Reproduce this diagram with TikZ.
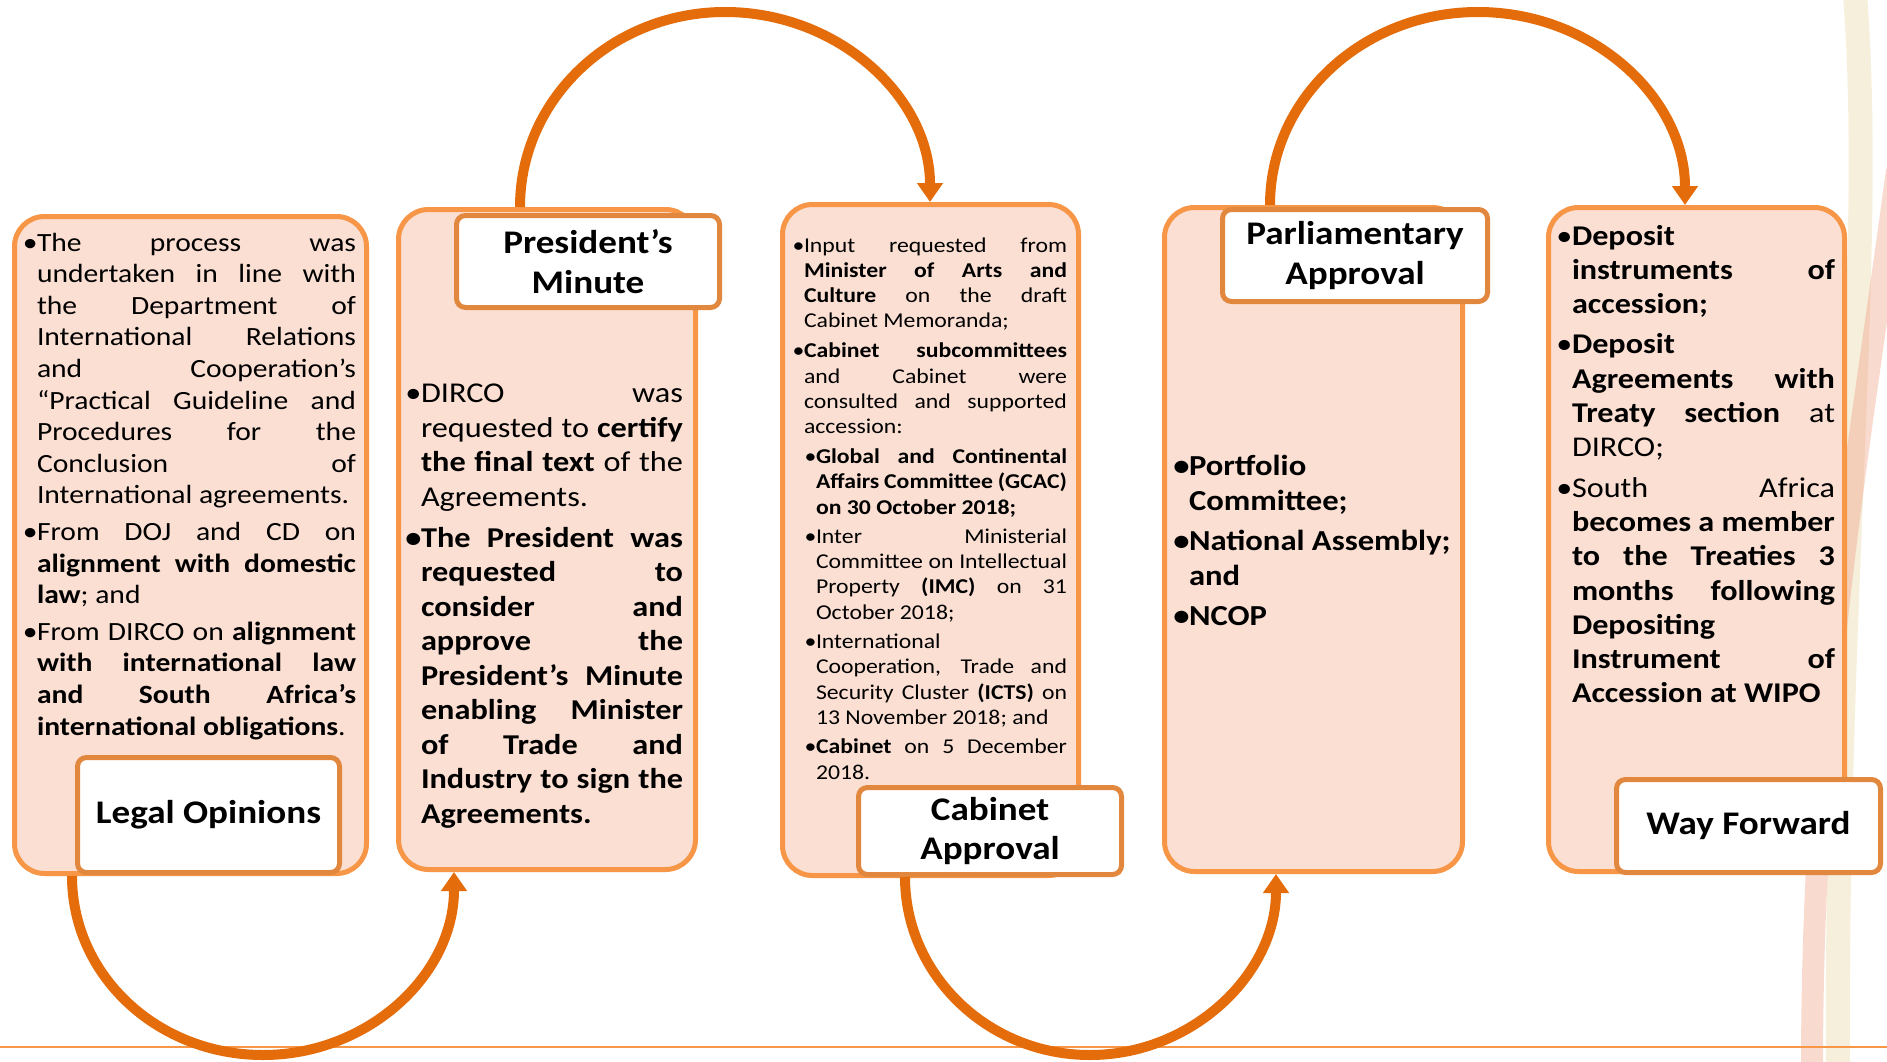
\documentclass[tikz,border=0pt]{standalone}
\usepackage{fontspec}
\setmainfont{Carlito}[FakeStretch=1.125]
\usetikzlibrary{arrows.meta}
\definecolor{arrowor}{RGB}{228,108,10}
\definecolor{panelbd}{RGB}{247,150,70}
\definecolor{panelfill}{RGB}{251,223,211}
\definecolor{titlebd}{RGB}{226,135,62}
\definecolor{stripesal}{RGB}{240,150,120}
\definecolor{stripeyel}{RGB}{225,205,140}
\newdimen\bulgap \bulgap=-0.5pt
\newdimen\subind \subind=12pt
\newcommand\JL[1]{\hbox to\hsize{\spaceskip=0.2em plus 1fil\relax#1}}
\newcommand\NL[1]{\hbox{#1}}
\newcommand\BJ[1]{\hbox to\hsize{\llap{•\kern\bulgap}\spaceskip=0.2em plus 1fil\relax#1}}
\newcommand\BN[1]{\hbox{\llap{•\kern\bulgap}#1}}
\newcommand\SJ[1]{\moveright\subind\hbox to\dimexpr\hsize-\subind\relax{\spaceskip=0.2em plus 1fil\relax#1}}
\newcommand\SBJ[1]{\moveright\subind\hbox to\dimexpr\hsize-\subind\relax{\llap{•\kern\bulgap}\spaceskip=0.2em plus 1fil\relax#1}}
\newcommand\SN[1]{\moveright\subind\hbox{#1}}
\newcommand\SBN[1]{\moveright\subind\hbox{\llap{•\kern\bulgap}#1}}
\begin{document}
\begin{tikzpicture}[x=1pt,y=-1pt,
  panel/.style={draw=panelbd, line width=5pt, fill=panelfill, rounded corners=30pt, inner sep=0pt, anchor=north west},
  tbox/.style={draw=titlebd, line width=5pt, fill=white, rounded corners=9pt, inner sep=0pt,
     font=\fontsize{33}{39.7}\selectfont\bfseries, align=center},
  body/.style={anchor=base west, inner sep=0pt, outer sep=0pt},
  flow/.style={draw=arrowor, line width=10pt, -{Triangle[width=25pt,length=19pt]}}
]
\useasboundingbox (0,0) rectangle (1887,1062);
\fill[white] (0,0) rectangle (1887,1062);
% background decoration
\draw[stripeyel, opacity=0.3, line width=24pt] (1855,-5) .. controls (1875,250) and (1835,600) .. (1838,1070);
\draw[stripesal, opacity=0.35, line width=22pt] (1897,170) .. controls (1860,450) and (1812,700) .. (1812,1070);
\draw[panelbd, line width=2.5pt] (0,1047) -- (1887,1047);

% panels
\node[panel, minimum width=352pt, minimum height=657pt] (p1) at (12,214) {};
\node[panel, minimum width=297pt, minimum height=660pt] (p2) at (396,207) {};
\node[panel, minimum width=296pt, minimum height=671pt] (p3) at (780,202) {};
\node[panel, minimum width=298pt, minimum height=664pt] (p4) at (1162,205) {};
\node[panel, minimum width=296pt, minimum height=664pt] (p5) at (1546,205) {};

% title boxes
\node[tbox, minimum width=262pt, minimum height=115pt] (t1) at (208.5,815) {Legal Opinions};
\node[tbox, minimum width=263pt, minimum height=92pt] (t2) at (588,261.5) {President’s\\Minute};
\node[tbox, minimum width=263pt, minimum height=87pt] (t3) at (990,831) {Cabinet\\Approval};
\node[tbox, minimum width=265pt, minimum height=92pt] (t4) at (1355,255.5) {Parliamentary\\Approval};
\node[tbox, minimum width=264pt, minimum height=93pt] (t5) at (1748.5,826) {Way Forward};

% connectors
\coordinate (m1) at (263,1055);
\coordinate (m2) at (725,12);
\coordinate (m3) at (1090,1055);
\coordinate (m4) at (1478,12);
\path[flow] ([xshift=60pt]p1.south west) .. controls +(0,100) and +(-105,0) .. (m1)
   .. controls +(105,0) and +(0,103) .. ([xshift=58pt]p2.south west);
\path[flow] ([xshift=124pt]p2.north west) .. controls +(0,-108) and +(-113,0) .. (m2)
   .. controls +(113,0) and +(0,-105) .. ([xshift=150pt]p3.north west);
\path[flow] ([xshift=49pt]t3.south west) .. controls +(0,98) and +(-102,0) .. (m3)
   .. controls +(102,0) and +(0,100) .. ([xshift=114pt]p4.south west);
\path[flow] ([xshift=108pt]p4.north west) .. controls +(0,-107) and +(-115,0) .. (m4)
   .. controls +(115,0) and +(0,-107) .. ([xshift=139pt]p5.north west);

% panel 1 text
\node[body] (b1) at (37,251) {\vtop{\hsize=319pt \fontsize{26.3}{31.6}\selectfont
\BJ{The process was}
\JL{undertaken in line with}
\JL{the Department of}
\JL{International Relations}
\JL{and Cooperation’s}
\JL{“Practical Guideline and}
\JL{Procedures for the}
\JL{Conclusion of}
\NL{International agreements.}
\vskip5pt
\BJ{From DOJ and CD on}
\JL{\bfseries alignment with domestic}
\NL{\textbf{law}; and}
\vskip5pt
\BJ{From DIRCO on \textbf{alignment}}
\JL{\bfseries with international law}
\JL{\bfseries and South Africa’s}
\NL{\textbf{international obligations}.}
}};

% panel 2 text
\node[body] (b2) at (421,402.5) {\vtop{\hsize=262pt \fontsize{28.7}{34.5}\selectfont
\BJ{DIRCO was}
\JL{requested to \textbf{certify}}
\JL{\textbf{the final text} of the}
\NL{Agreements.}
\vskip6.5pt
\bfseries
\BJ{The President was}
\JL{requested to}
\JL{consider and}
\JL{approve the}
\JL{President’s Minute}
\JL{enabling Minister}
\JL{of Trade and}
\JL{Industry to sign the}
\NL{Agreements.}
}};

% panel 3 text
\node[body] (b3) at (804,252) {\vtop{\hsize=263pt \fontsize{21.1}{25.3}\selectfont
\BJ{Input requested from}
\JL{\bfseries Minister of Arts and}
\JL{\textbf{Culture} on the draft}
\NL{Cabinet Memoranda;}
\vskip4.5pt
\BJ{\bfseries Cabinet subcommittees}
\JL{and Cabinet were}
\JL{consulted and supported}
\NL{accession:}
\vskip4.5pt
\SBJ{\bfseries Global and Continental}
\SJ{\bfseries Affairs Committee (GCAC)}
\SN{\bfseries on 30 October 2018;}
\vskip4pt
\SBJ{Inter Ministerial}
\SJ{Committee on Intellectual}
\SJ{Property \textbf{(IMC)} on 31}
\SN{October 2018;}
\vskip4pt
\SBN{International}
\SJ{Cooperation, Trade and}
\SJ{Security Cluster \textbf{(ICTS)} on}
\SN{13 November 2018; and}
\vskip4pt
\SBJ{\textbf{Cabinet} on 5 December}
\SN{2018.}
}};

% panel 4 text
\node[body] (b4) at (1189,475) {\vtop{\hsize=270pt \fontsize{29}{35}\selectfont\bfseries
\BN{Portfolio}
\NL{Committee;}
\vskip5.3pt
\BN{National Assembly;}
\NL{and}
\vskip5.3pt
\BN{NCOP}
}};

% panel 5 text
\node[body] (b5) at (1572,245) {\vtop{\hsize=263pt \fontsize{28.6}{34.3}\selectfont
\BN{\bfseries Deposit}
\JL{\bfseries instruments of}
\NL{\bfseries accession;}
\vskip6pt
\BN{\bfseries Deposit}
\JL{\bfseries Agreements with}
\JL{\textbf{Treaty section} at}
\NL{DIRCO;}
\vskip6pt
\BJ{South Africa}
\JL{\bfseries becomes a member}
\JL{\bfseries to the Treaties 3}
\JL{\bfseries months following}
\NL{\bfseries Depositing}
\JL{\bfseries Instrument of}
\NL{\bfseries Accession at WIPO}
}};
\end{tikzpicture}
\end{document}
